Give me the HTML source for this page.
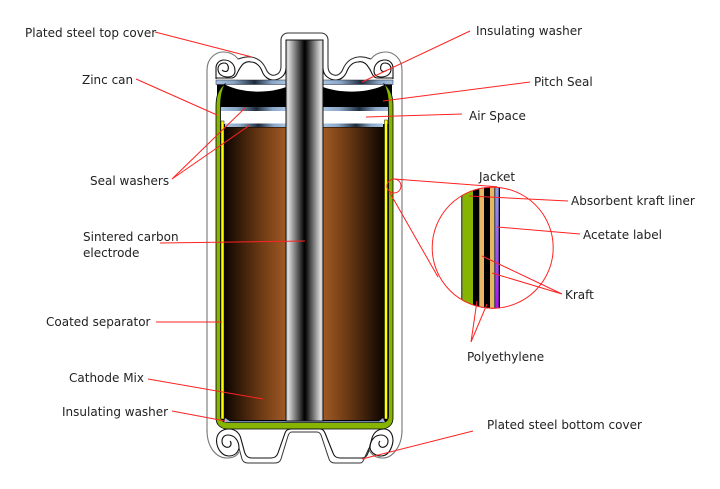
<!DOCTYPE html>
<html><head><meta charset="utf-8"><style>
html,body{margin:0;padding:0;background:#fff}
svg{display:block}
text{font-family:"DejaVu Sans","Liberation Sans",sans-serif;font-size:12px;fill:#222}
</style></head><body>
<svg width="720" height="489" viewBox="0 0 720 489" xmlns="http://www.w3.org/2000/svg">
<defs>
<linearGradient id="rod"><stop offset="0" stop-color="#bbb"/><stop offset=".06" stop-color="#ddd"/><stop offset=".5" stop-color="#000"/><stop offset=".55" stop-color="#111"/><stop offset=".94" stop-color="#ddd"/><stop offset="1" stop-color="#bbb"/></linearGradient>
<linearGradient id="brL"><stop offset="0" stop-color="#0c0500"/><stop offset=".6" stop-color="#6c3a14"/><stop offset="1" stop-color="#a05a24"/></linearGradient>
<linearGradient id="brR"><stop offset="0" stop-color="#a05a24"/><stop offset=".4" stop-color="#6c3a14"/><stop offset="1" stop-color="#0c0500"/></linearGradient>
<linearGradient id="wash"><stop offset="0" stop-color="#a8c4e0"/><stop offset=".25" stop-color="#8aa6c6"/><stop offset=".55" stop-color="#1c2a3a"/><stop offset=".8" stop-color="#8aa6c6"/><stop offset="1" stop-color="#a8c4e0"/></linearGradient>
<linearGradient id="lab" x1="0" y1="0" x2="0" y2="1"><stop offset="0" stop-color="#8aa4e8"/><stop offset="1" stop-color="#b010f0"/></linearGradient>
<clipPath id="lens"><circle cx="492.700" cy="247.700" r="61"/></clipPath>
<g id="topL">
<path d="M207 432V70C207 58 216 52 223 52C230 52 235 55 238 59" fill="none" stroke="#777" stroke-width="1.1"/>
<path d="M238 59C242 58 246 56 251 57C258 58 263 62 266 69C268 74 272 76 275 75C279 74 281 71 281 66V40C281 36 284 33 288 33H305" fill="#fff" stroke="#333" stroke-width="1.1"/>
<path d="M216 79V68C216 64 219 60 224 60C230 60 235 64 235 71C235 75 232 77 228 77C222 77 218 74 218 69C218 65 221 63 224 63C228 63 229 67 228 70C227 72 224 72 222 70" fill="none" stroke="#111" stroke-width="1.1"/>
<path d="M216 78H232C237 77 237 72 240 68C243 63 247 61 251 62C256 62 260 66 262 71C264 77 269 80 273 80C279 80 286 76 286 68" fill="none" stroke="#111" stroke-width="1.1"/>
</g>
</defs>

<!-- top cover -->
<use href="#topL"/>
<use href="#topL" transform="translate(609 0) scale(-1 1)"/>

<!-- interior -->
<rect x="217" y="82" width="175" height="46" fill="#000"/>
<path d="M224 84H286V87C268 94 240 93 224 84ZM323 84H386C370 93 342 94 323 87Z" fill="#fff"/>
<rect x="220" y="111" width="66" height="13" fill="#fff"/>
<rect x="323" y="111" width="66" height="13" fill="#fff"/>
<rect x="216" y="80" width="70" height="4.500" fill="url(#wash)" stroke="#223" stroke-width=".5"/>
<rect x="323" y="80" width="70" height="4.500" fill="url(#wash)" stroke="#223" stroke-width=".5"/>
<rect x="220" y="107" width="66" height="4" fill="url(#wash)"/>
<rect x="323" y="107" width="66" height="4" fill="url(#wash)"/>
<rect x="225" y="123.500" width="61" height="4" fill="url(#wash)"/>
<rect x="323" y="123.500" width="60" height="4" fill="url(#wash)"/>

<!-- cathode + can -->
<rect x="220" y="127" width="169" height="296" fill="#000"/>
<rect x="224" y="127.500" width="62" height="292.500" fill="url(#brL)"/>
<rect x="323" y="127.500" width="61" height="292.500" fill="url(#brR)"/>
<path d="M225 84C219 88 216 96 216 106V418C216 425 221 429 228 429H381C388 429 393 425 393 418V106C393 96 390 88 384 84C387 90 388.500 97 388.500 106V416C388.500 420 386 422.500 382 422.500H227C223 422.500 220.500 420 220.500 416V106C220.500 97 222 90 225 84Z" fill="#86b400" stroke="#000" stroke-width=".8"/>
<rect x="221" y="121" width="3" height="298" fill="#ff0" stroke="#111" stroke-width=".5"/>
<rect x="384.500" y="120" width="3" height="299" fill="#ff0" stroke="#111" stroke-width=".5"/>
<path d="M225 418L230 421.200H379L383 418L385 422.200H224Z" fill="#9ab0e0"/>
<rect x="286" y="40" width="37" height="381" fill="url(#rod)" stroke="#111" stroke-width="1"/>

<!-- bottom cover -->
<path d="M207 430C207 447 216 458 227 458C233 458 237 456 239 452" fill="none" stroke="#777" stroke-width="1.100"/>
<path d="M402 430C402 447 392 458 383 458C377 458 372 456 369 450" fill="none" stroke="#777" stroke-width="1.100"/>
<path d="M216.500 441C216.500 433 222 429 229 429C236 429 240 434 241 439L244 450C245 455 247 458 252 458H271C275 458 277 456 278 453L285 433C286 430 288 429 291 429H320C323 429 324 431 325 433L333 453C334 456 336 458 340 458H362C365 458 367 456 368 453L372 438C374 432 378 429 384 429C389 429 393 433 393 441" fill="none" stroke="#111" stroke-width="1.100"/>
<path d="M216.500 441C217 449 222 456 229 456C234 456 238 453 239 448C239 440 234 435 228 435C224 435 222 438 222 441C222 446 226 448 229 447C231 446 232 443 230 441" fill="none" stroke="#111" stroke-width="1.100"/>
<path d="M393 441C392 449 388 456 381 456C376 456 371 453 370 448C370 440 375 435 381 435C385 435 388 438 388 441C388 446 384 448 381 447C379 446 378 443 380 441" fill="none" stroke="#111" stroke-width="1.100"/>
<path d="M239 448L242 459C243 462 245 463 248 463H275C278 463 280 462 281 459L288 436C289 433 290 432 292 432H317C319 432 320 433 321 435L329 459C330 462 332 463 335 463H360C362 463 363 462 364 459L369 448" fill="none" stroke="#333" stroke-width="1"/>

<!-- detail circle -->
<g clip-path="url(#lens)">
<rect x="461" y="185" width="1.500" height="125" fill="#555"/>
<rect x="462.500" y="185" width="10.500" height="125" fill="#86b400"/>
<rect x="473" y="185" width="27" height="125" fill="#000"/>
<rect x="479.300" y="185" width="4.700" height="125" fill="#e6b866"/>
<rect x="490" y="185" width="4" height="125" fill="#e6b866"/>
<rect x="494" y="185" width="1.300" height="125" fill="#555"/>
<rect x="495.300" y="185" width="3.400" height="125" fill="url(#lab)"/>
</g>

<!-- red leaders -->
<g fill="none" stroke="#f22" stroke-width="1">
<circle cx="394" cy="186" r="7"/>
<circle cx="492.700" cy="247.700" r="60.500"/>
<path d="M394 179L497 186.700M390 193L438 277"/>
<path d="M155 32L252 57M136 79L217 115M470 31L362 82M530 82L383 101M462 114L366 117"/>
<path d="M172 179L245 108M172 179L250 125"/>
<path d="M160 243L305 241M156 322L222 322M148 379L263 399M172 411L225 421M473 431L362 459"/>
<path d="M568 201L469 196M580 234L497 227"/>
<path d="M562 294L482 256M562 294L492 273"/>
<path d="M471 342L477 301M471 342L487 304"/>
</g>

<!-- labels -->
<text x="25" y="37">Plated steel top cover</text>
<text x="82" y="84">Zinc can</text>
<text x="90" y="185">Seal washers</text>
<text x="83" y="241">Sintered carbon</text>
<text x="83" y="257">electrode</text>
<text x="46" y="326">Coated separator</text>
<text x="69" y="382">Cathode Mix</text>
<text x="62" y="416">Insulating washer</text>
<text x="476" y="35">Insulating washer</text>
<text x="534" y="86">Pitch Seal</text>
<text x="469" y="120">Air Space</text>
<text x="479" y="181">Jacket</text>
<text x="571" y="205">Absorbent kraft liner</text>
<text x="583" y="239">Acetate label</text>
<text x="565" y="299">Kraft</text>
<text x="467" y="361">Polyethylene</text>
<text x="487" y="429">Plated steel bottom cover</text>
</svg>
</body></html>
